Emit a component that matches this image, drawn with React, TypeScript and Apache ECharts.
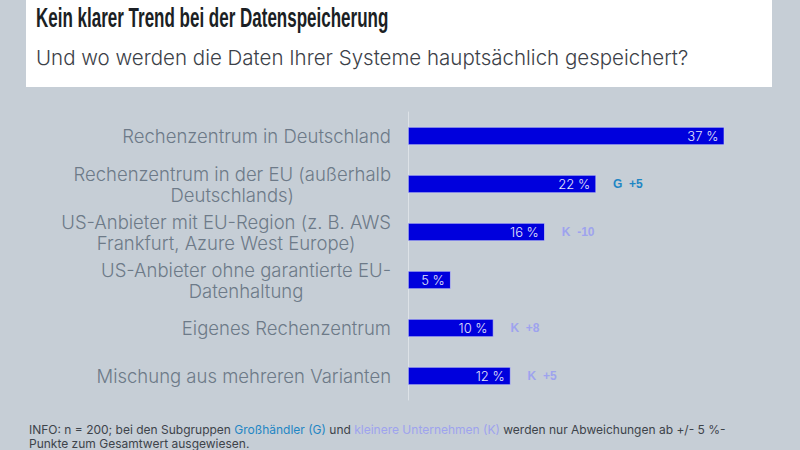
import React, { useEffect, useRef } from "react";
import * as echarts from "echarts";

// Storage locations (top to bottom) and share of respondents in percent
const categories = [
  "Rechenzentrum in Deutschland",
  "Rechenzentrum in der EU (außerhalb\nDeutschlands)",
  "US-Anbieter mit EU-Region (z. B. AWS\nFrankfurt, Azure West Europe)",
  "US-Anbieter ohne garantierte EU-\nDatenhaltung",
  "Eigenes Rechenzentrum",
  "Mischung aus mehreren Varianten",
];
const shares = [37, 22, 16, 5, 10, 12];
// Subgroup deviations: G = Großhändler, K = kleinere Unternehmen
const subgroup = ["", "G", "K", "", "K", "K"];
const deviation = ["", "+5", "-10", "", "+8", "+5"];

const BG = "#c6ced6";
const BAR = "#0000dd";
const G_COLOR = "#1f86c4";
const K_COLOR = "#9ea3ee";
const LABEL_FONT = "Inter, 'Noto Sans', sans-serif";

export default function App() {
  const ref = useRef<HTMLDivElement>(null);

  useEffect(() => {
    if (!ref.current) return;
    const chart = echarts.init(ref.current, undefined, { renderer: "svg" });

    const annotations = subgroup.map((g, i) =>
      g ? `{${g}|${g}  ${deviation[i]}}` : ""
    );

    chart.setOption({
      animation: false,
      backgroundColor: BG,
      grid: { left: 408, right: 50, top: 112, bottom: 50, containLabel: false },
      xAxis: {
        type: "value",
        min: 0,
        max: 40,
        show: false,
      },
      yAxis: {
        type: "category",
        inverse: true,
        data: categories,
        axisLine: { show: true, lineStyle: { color: "#dde2e7", width: 1 } },
        axisTick: { show: false },
        axisLabel: {
          margin: 17,
          fontFamily: LABEL_FONT,
          fontSize: 18.5,
          fontWeight: 300,
          color: "#6d7a88",
          lineHeight: 21,
          align: "right",
          formatter: (v: string) =>
            v
              .split("\n")
              .map((l) => `{c|${l}}`)
              .join("\n"),
          rich: {
            c: {
              align: "center",
              fontFamily: LABEL_FONT,
              fontSize: 18.5,
              fontWeight: 300,
              color: "#6d7a88",
              lineHeight: 21,
            },
          },
        },
      },
      series: [
        {
          type: "bar",
          data: shares,
          barWidth: 18,
          itemStyle: { color: BAR, borderColor: "#dcdff5", borderWidth: 0.6 },
          label: {
            show: true,
            position: "insideRight",
            distance: 6,
            formatter: "{c} %",
            color: "#e4e4fa",
            fontFamily: LABEL_FONT,
            fontWeight: 300,
            fontSize: 13,
          },
        },
        {
          type: "bar",
          data: shares,
          barWidth: 18,
          barGap: "-100%",
          itemStyle: { color: "transparent" },
          silent: true,
          label: {
            show: true,
            position: "right",
            distance: 17,
            formatter: (p: any) => annotations[p.dataIndex],
            rich: {
              G: {
                color: G_COLOR,
                fontWeight: "bold",
                fontSize: 12,
                fontFamily: "'Liberation Sans', Arial, sans-serif",
              },
              K: {
                color: K_COLOR,
                fontWeight: "bold",
                fontSize: 12,
                fontFamily: "'Liberation Sans', Arial, sans-serif",
              },
            },
          },
        },
      ],
      graphic: [
        {
          type: "rect",
          shape: { x: 26, y: 0, width: 746, height: 87 },
          style: { fill: "#ffffff" },
          silent: true,
        },
        {
          type: "text",
          x: 36,
          y: 18,
          scaleX: 0.63,
          style: {
            text: "Kein klarer Trend bei der Datenspeicherung",
            fontFamily: "'Liberation Sans', Arial, sans-serif",
            fontWeight: "bold",
            fontSize: 27,
            fill: "#1b1f24",
            verticalAlign: "middle",
          },
        },
        {
          type: "text",
          x: 36,
          y: 57,
          style: {
            text: "Und wo werden die Daten Ihrer Systeme hauptsächlich gespeichert?",
            fontFamily: LABEL_FONT,
            fontWeight: 300,
            fontSize: 20.5,
            fill: "#3c4148",
            verticalAlign: "middle",
          },
        },
        {
          type: "text",
          x: 29,
          y: 436,
          style: {
            text:
              "{t|INFO: n = 200; bei den Subgruppen }{g|Großhändler (G)}{t| und }{k|kleinere Unternehmen (K)}{t| werden nur Abweichungen ab +/- 5 %-}\n{t|Punkte zum Gesamtwert ausgewiesen.}",
            verticalAlign: "middle",
            rich: {
              t: { fill: "#3d434a", fontFamily: LABEL_FONT, fontSize: 12, lineHeight: 14 },
              g: { fill: G_COLOR, fontFamily: LABEL_FONT, fontSize: 12, lineHeight: 14 },
              k: { fill: K_COLOR, fontFamily: LABEL_FONT, fontSize: 12, lineHeight: 14 },
            },
          },
        },
      ],
    });

    return () => chart.dispose();
  }, []);

  return (
    <div
      ref={ref}
      style={{ position: "absolute", left: 0, top: 0, width: 800, height: 450 }}
    />
  );
}
